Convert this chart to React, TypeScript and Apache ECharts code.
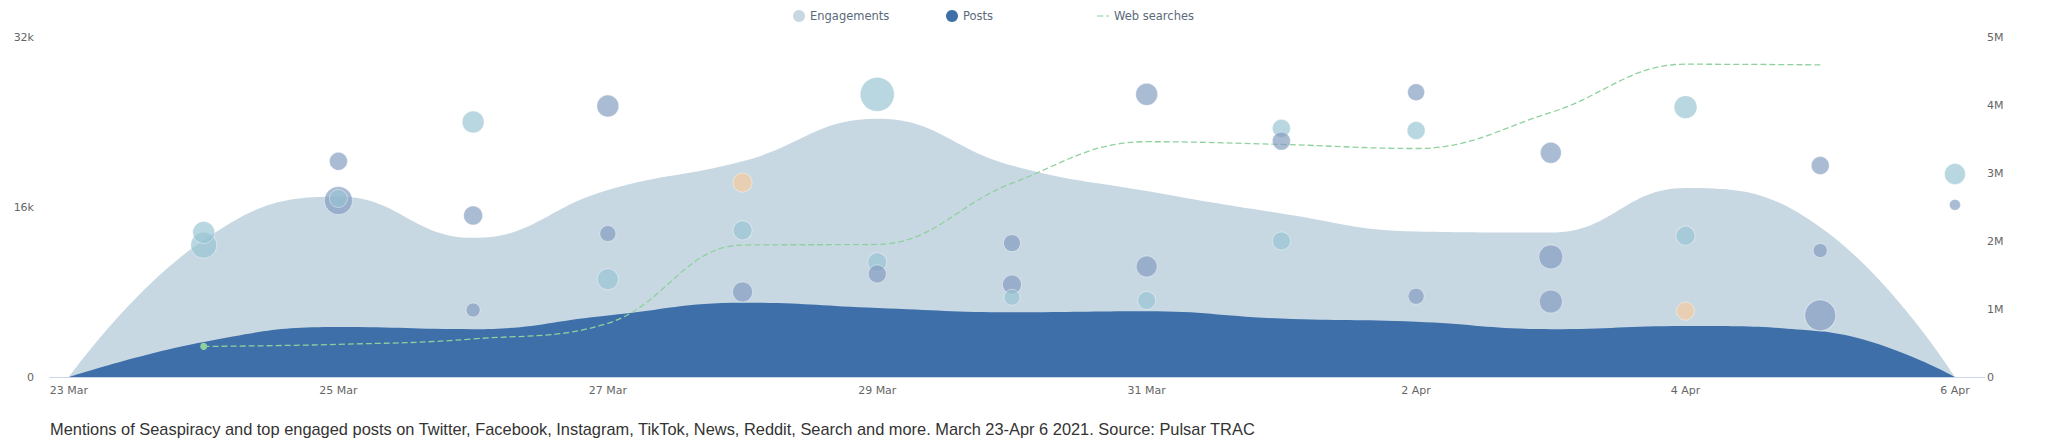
import React, { useEffect, useRef } from "react";
import * as echarts from "echarts";

// ---- data ----
const days = [
  "23 Mar", "24 Mar", "25 Mar", "26 Mar", "27 Mar", "28 Mar", "29 Mar", "30 Mar",
  "31 Mar", "1 Apr", "2 Apr", "3 Apr", "4 Apr", "5 Apr", "6 Apr",
];
const tickDays = [0, 2, 4, 6, 8, 10, 12, 14];

const engagements = [0, 12900, 17000, 13100, 17600, 20300, 24300, 19900, 17500, 15400, 13700, 13600, 17800, 14100, 0];
const posts = [0, 3300, 4700, 4500, 5800, 7000, 6500, 6100, 6200, 5500, 5200, 4500, 4800, 4300, 0];
const webSearches = [null, 450000, 480000, 560000, 790000, 1940000, 1950000, 2850000, 3460000, 3420000, 3360000, 3890000, 4600000, 4590000, null];

// top engaged posts: [day index, engagement, size weight, group]
const topPosts: [number, number, number, string][] = [
  [1, 12400, 169, "a"], [1, 13600, 121, "a"],
  [2, 20300, 81, "b"], [2, 16600, 196, "b"], [2, 16800, 81, "a"],
  [3, 24000, 121, "a"], [3, 15200, 90, "b"], [3, 6300, 49, "b"],
  [4, 25500, 121, "b"], [4, 13500, 64, "b"], [4, 9200, 110, "a"],
  [5, 18300, 90, "c"], [5, 13800, 90, "a"], [5, 8000, 100, "b"],
  [6, 26600, 289, "a"], [6, 10800, 90, "a"], [6, 9700, 81, "b"],
  [7, 12600, 72, "b"], [7, 8700, 90, "b"], [7, 7500, 64, "a"],
  [8, 26600, 121, "b"], [8, 10400, 110, "b"], [8, 7200, 81, "a"],
  [9, 23400, 81, "a"], [9, 22200, 81, "b"], [9, 12800, 81, "a"],
  [10, 26800, 72, "b"], [10, 23200, 81, "a"], [10, 7600, 64, "b"],
  [11, 21100, 110, "b"], [11, 11300, 144, "b"], [11, 7100, 132, "b"],
  [12, 25400, 132, "a"], [12, 13300, 90, "a"], [12, 6200, 81, "c"],
  [13, 19900, 81, "b"], [13, 11900, 49, "b"], [13, 5800, 240, "b"],
  [14, 19100, 110, "a"], [14, 16200, 30, "b"],
];

const caption =
  "Mentions of Seaspiracy and top engaged posts on Twitter, Facebook, Instagram, TikTok, News, Reddit, Search and more. March 23-Apr 6 2021. Source: Pulsar TRAC";

const groupColors: Record<string, string> = {
  a: "rgba(150,195,210,0.84)",
  b: "rgba(128,153,191,0.84)",
  c: "rgba(248,202,154,0.84)",
};

export default function App() {
  const ref = useRef<HTMLDivElement>(null);
  useEffect(() => {
    if (!ref.current) return;
    const chart = echarts.init(ref.current, undefined, { renderer: "svg" });
    const axisFont = { fontFamily: "DejaVu Sans", fontSize: 11, color: "#666666" };
    const legendText = { fontFamily: "DejaVu Sans", fontSize: 11.5, color: "#5a6a7a" };
    chart.setOption({
      animation: false,
      backgroundColor: "#ffffff",
      title: {
        text: caption,
        left: 45,
        top: 416,
        textStyle: { fontFamily: "Liberation Sans", fontSize: 16.4, fontWeight: "normal", color: "#333333" },
      },
      legend: [
        { data: ["Engagements"], left: 788, top: 5, icon: "circle", itemWidth: 12, itemHeight: 12, textStyle: legendText, selectedMode: false },
        { data: ["Posts"], left: 941, top: 5, icon: "circle", itemWidth: 12, itemHeight: 12, textStyle: legendText, selectedMode: false },
        {
          data: ["Web searches"], left: 1092, top: 5,
          icon: "path://M0,0H7V1H0Z M10,0H13V1H10Z",
          itemWidth: 12, itemHeight: 1.5, textStyle: legendText, selectedMode: false,
        },
      ],
      grid: { left: 50, right: 63, top: 37, bottom: 66, containLabel: false },
      xAxis: {
        type: "value",
        min: -0.141,
        max: 14.223,
        axisLine: { show: true, lineStyle: { color: "#ccd6eb", width: 1 } },
        axisTick: { show: false },
        splitLine: { show: false },
        axisLabel: {
          ...axisFont,
          margin: 8,
          customValues: tickDays,
          formatter: (v: number) => days[Math.round(v)] ?? "",
        },
      },
      yAxis: [
        {
          type: "value", min: 0, max: 32000, interval: 16000,
          axisLine: { show: false }, axisTick: { show: false }, splitLine: { show: false },
          axisLabel: {
            ...axisFont, margin: 16,
            formatter: (v: number) => (v === 0 ? "0" : v / 1000 + "k"),
          },
        },
        {
          type: "value", min: 0, max: 5000000, interval: 1000000,
          axisLine: { show: false }, axisTick: { show: false }, splitLine: { show: false },
          axisLabel: {
            ...axisFont, margin: 2,
            formatter: (v: number) => (v === 0 ? "0" : v / 1000000 + "M"),
          },
        },
      ],
      series: [
        {
          name: "Engagements", type: "line", smooth: 0.45, symbol: "none",
          data: engagements.map((v, i) => [i, v]),
          lineStyle: { width: 0 },
          itemStyle: { color: "#c8d8e3" },
          areaStyle: { color: "#c8d8e3", opacity: 1 },
          z: 1,
        },
        {
          name: "Posts", type: "line", smooth: 0.45, symbol: "none",
          data: posts.map((v, i) => [i, v]),
          lineStyle: { width: 0 },
          itemStyle: { color: "#3e6fa9" },
          areaStyle: { color: "#3e6fa9", opacity: 1 },
          z: 2,
        },
        {
          name: "Web searches", type: "line", smooth: 0.4, yAxisIndex: 1,
          symbol: "none",
          data: webSearches
            .map((v, i) => (v == null ? null : i === 1
              ? { value: [i, v], symbol: "circle", symbolSize: 7 }
              : { value: [i, v] }))
            .filter((d) => d != null),
          lineStyle: { color: "#8fd19e", width: 1.3, type: [6, 3] },
          itemStyle: { color: "#8fd19e" },
          z: 3,
        },
        {
          name: "Top posts", type: "scatter",
          data: topPosts.map(([d, v, w, g]) => ({
            value: [d, v, w],
            itemStyle: { color: groupColors[g] },
          })),
          symbolSize: (val: number[]) => 2 * Math.sqrt(val[2]),
          itemStyle: { borderColor: "rgba(255,255,255,0.5)", borderWidth: 1 },
          z: 4,
        },
      ],
    });
    return () => chart.dispose();
  }, []);
  return (
    <div
      ref={ref}
      style={{ position: "absolute", left: 0, top: 0, width: 2048, height: 443 }}
    />
  );
}
